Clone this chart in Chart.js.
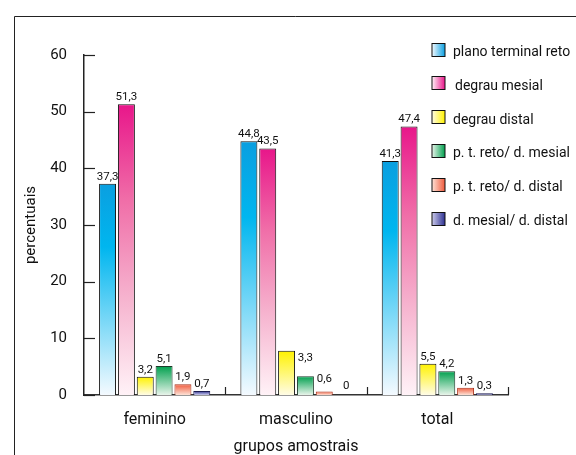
<!DOCTYPE html>
<html><head><meta charset="utf-8">
<script src="https://cdn.jsdelivr.net/npm/chart.js@4.4.1/dist/chart.umd.min.js"></script>
<style>html,body{margin:0;padding:0;background:#fff;}#wrap{width:576px;height:455px;}</style>
</head><body><div id="wrap"><canvas id="c" width="576" height="455"></canvas></div>
<script>
// ---- data ----
const categories = ['feminino', 'masculino', 'total'];
const seriesNames = ['plano terminal reto', 'degrau mesial', 'degrau distal', 'p. t. reto/ d. mesial', 'p. t. reto/ d. distal', 'd. mesial/ d. distal'];
const planoTerminalReto = [37.3, 44.8, 41.3];
const degrauMesial = [51.3, 43.5, 47.4];
const degrauDistal = [3.2, 7.8, 5.5];
const ptRetoDMesial = [5.1, 3.3, 4.2];
const ptRetoDDistal = [1.9, 0.6, 1.3];
const dMesialDDistal = [0.7, 0, 0.3];
const valueLabels = [
  ['37,3', '44,8', '41,3'],
  ['51,3', '43,5', '47,4'],
  ['3,2', null, '5,5'],
  ['5,1', '3,3', '4,2'],
  ['1,9', '0,6', '1,3'],
  ['0,7', '0', '0,3']
];
const yTicks = [0, 10, 20, 30, 40, 50, 60];

// ---- styles ----
const FONT = 'Roboto, "Liberation Sans", sans-serif';
const seriesStops = [
  [[0, '#0a9fe0'], [0.3, '#00b6ef'], [1, '#f4faff']],
  [[0, '#e8168a'], [0.33, '#f06ea8'], [0.67, '#f6b4cf'], [1, '#fff2f7']],
  [[0, '#fff200'], [1, '#fffce6']],
  [[0, '#00a04e'], [1, '#e8f4ea']],
  [[0, '#f05a3c'], [1, '#fde2d6']],
  [[0, '#2e3192'], [1, '#cacaea']]
];
const seriesBorders = ['#111', '#111', '#111', '#1e3a2a', '#a8321c', '#1a1a50'];
// extra label shifts (dx, dy) for bars whose labels sit off the bar top
const labelShift = { '3-1': [0, -11], '4-1': [0, -5], '5-1': [3, -2] };

function barGradient(ctx, stops) {
  const chart = ctx.chart;
  if (!chart.chartArea || ctx.type !== 'data') return stops[0][1];
  const y = chart.scales.y;
  const top = y.getPixelForValue(ctx.raw), bottom = y.getPixelForValue(0);
  if (bottom - top < 1) return stops[0][1];
  const g = chart.ctx.createLinearGradient(0, top, 0, bottom);
  stops.forEach(s => g.addColorStop(s[0], s[1]));
  return g;
}

const seriesValues = [planoTerminalReto, degrauMesial, degrauDistal, ptRetoDMesial, ptRetoDDistal, dMesialDDistal];
const datasets = seriesValues.map((vals, i) => ({
  label: seriesNames[i],
  data: vals,
  backgroundColor: (c) => barGradient(c, seriesStops[i]),
  borderColor: seriesBorders[i],
  borderWidth: 1,
  borderSkipped: 'bottom',
  categoryPercentage: 0.8,
  barPercentage: 0.9
}));

const framePlugin = {
  id: 'frame',
  beforeDraw(chart) {
    const c = chart.ctx;
    c.save();
    c.strokeStyle = '#222'; c.lineWidth = 1;
    c.beginPath();
    c.moveTo(14.5, 455); c.lineTo(14.5, 16.5); c.lineTo(576, 16.5);
    c.stroke();
    c.restore();
  }
};

const ticksPlugin = {
  id: 'innerTicks',
  afterDraw(chart) {
    const c = chart.ctx, xs = chart.scales.x, ys = chart.scales.y, a = chart.chartArea;
    c.save();
    c.strokeStyle = '#222'; c.lineWidth = 1.2;
    yTicks.forEach(v => {
      const py = Math.round(ys.getPixelForValue(v)) + 0.5;
      c.beginPath(); c.moveTo(a.left, py); c.lineTo(a.left + 11, py); c.stroke();
    });
    for (let i = 0; i < categories.length; i++) {
      const px = i < categories.length - 1 ? (xs.getPixelForValue(i) + xs.getPixelForValue(i + 1)) / 2 : a.right;
      const rx = Math.round(px) + 0.5;
      c.beginPath(); c.moveTo(rx, a.bottom); c.lineTo(rx, a.bottom - 8); c.stroke();
    }
    c.restore();
  }
};

const labelsPlugin = {
  id: 'valueLabels',
  afterDatasetsDraw(chart) {
    const c = chart.ctx;
    c.save();
    c.font = '11.5px ' + FONT;
    c.fillStyle = '#111';
    c.textAlign = 'center';
    c.textBaseline = 'middle';
    chart.data.datasets.forEach((ds, di) => {
      const meta = chart.getDatasetMeta(di);
      meta.data.forEach((el, j) => {
        const t = valueLabels[di][j];
        if (t == null) return;
        const sh = labelShift[di + '-' + j] || [0, 0];
        c.fillText(t, el.x + sh[0], el.y - 7 + sh[1]);
      });
    });
    c.restore();
  }
};

const legendPlugin = {
  id: 'customLegend',
  afterDraw(chart) {
    const c = chart.ctx;
    c.save();
    seriesNames.forEach((name, i) => {
      const cy = 49 + i * 33.8;
      const bx = 432, by = Math.round(cy - 6.5) + 0.5;
      const stops = seriesStops[i];
      const g = c.createLinearGradient(bx, 0, bx + 13, 0);
      g.addColorStop(0, stops[stops.length - 1][1]);
      g.addColorStop(1, stops[0][1]);
      c.fillStyle = g;
      c.fillRect(bx, by, 13, 13);
      c.strokeStyle = '#111'; c.lineWidth = 1;
      c.strokeRect(bx, by, 13, 13);
      c.fillStyle = '#111';
      c.font = '14px ' + FONT;
      c.textAlign = 'left'; c.textBaseline = 'middle';
      c.fillText(name, i === 1 ? 455 : 453, cy + 3.5);
    });
    c.restore();
  }
};

new Chart(document.getElementById('c'), {
  type: 'bar',
  data: { labels: categories, datasets },
  plugins: [framePlugin, ticksPlugin, labelsPlugin, legendPlugin],
  options: {
    responsive: false,
    animation: false,
    devicePixelRatio: 1,
    layout: { padding: { left: 0, right: 68, top: 55, bottom: 0 } },
    plugins: { legend: { display: false }, tooltip: { enabled: false } },
    scales: {
      x: {
        type: 'category',
        grid: { display: false, drawTicks: false, tickLength: 0 },
        border: { display: true, color: '#333', width: 1.5 },
        ticks: { color: '#111', font: { family: FONT, size: 16 }, padding: 15 },
        title: { display: true, text: 'grupos amostrais', color: '#111', font: { family: FONT, size: 16, lineHeight: 1 }, padding: 0 },
        afterFit(s) { s.height = 60; }
      },
      y: {
        min: 0, max: 60,
        grid: { display: false, drawTicks: false, tickLength: 0 },
        border: { display: true, color: '#222', width: 1.5 },
        ticks: { stepSize: 10, color: '#111', font: { family: FONT, size: 15 }, padding: 17 },
        title: { display: true, text: 'percentuais', color: '#111', font: { family: FONT, size: 15 }, padding: { top: 22, bottom: 0 } },
        afterFit(s) { s.width = 84; }
      }
    }
  }
});
</script></body></html>
